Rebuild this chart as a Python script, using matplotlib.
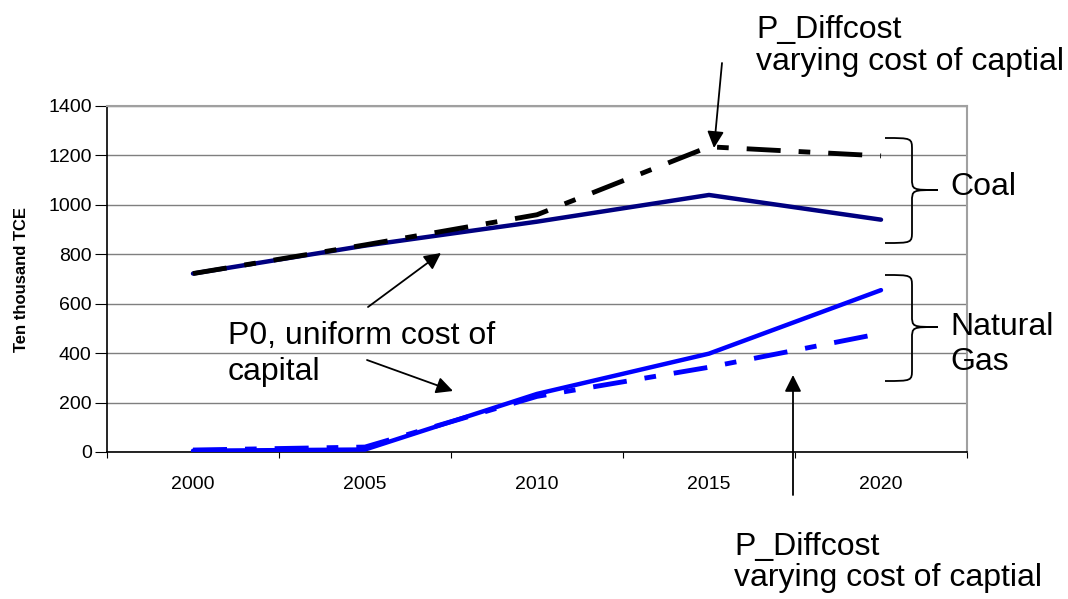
import matplotlib
matplotlib.use('Agg')
import matplotlib.pyplot as plt
from matplotlib.path import Path
from matplotlib.patches import PathPatch

plt.rcParams['font.family'] = ['Liberation Sans', 'DejaVu Sans']

years = ['2000', '2005', '2010', '2015', '2020']
coal_p0 = [722, 835, 932, 1040, 940]
coal_diff = [722, 838, 960, 1235, 1198]
gas_p0 = [5, 10, 235, 398, 655]
gas_diff = [8, 20, 225, 343, 480]
yticks = [0, 200, 400, 600, 800, 1000, 1200, 1400]

W, H = 1068, 599
fig = plt.figure(figsize=(W / 100, H / 100), dpi=100)
ax = fig.add_axes([107 / W, 1 - 452 / H, (967 - 107) / W, (452 - 106) / H])

x = list(range(len(years)))
ax.plot(x, coal_p0, color='#000080', lw=3.2, solid_capstyle='round', zorder=3)
ax.plot(x, coal_diff, color='black', lw=3.5, dashes=(7, 3.7, 2.4, 3.7), zorder=4)
ax.plot(x, gas_p0, color='#0000ff', lw=3.2, solid_capstyle='round', zorder=3)
ax.plot(x, gas_diff, color='#0000ff', lw=3.5, dashes=(7, 3.7, 2.4, 3.7), zorder=4)

ax.set_xlim(-0.5, len(years) - 0.5)
ax.set_ylim(0, 1400)
ax.set_yticks(yticks)
ax.set_yticklabels([str(v) for v in yticks], fontsize=14)
ax.set_xticks([i - 0.5 for i in range(len(years) + 1)])
ax.set_xticklabels([])
ax.set_xticks(x, minor=True)
ax.set_xticklabels(years, minor=True, fontsize=14)
ax.tick_params(axis='x', which='major', length=4.5, direction='out', color='black')
ax.tick_params(axis='x', which='minor', length=0, pad=17)
ax.tick_params(axis='y', length=9, direction='out', pad=2)
ax.yaxis.grid(True, color='#7f7f7f', lw=1)
ax.set_axisbelow(True)
for s in ['top', 'right']:
    ax.spines[s].set_color('#a0a0a0')
    ax.spines[s].set_linewidth(1.5)
for s in ['left', 'bottom']:
    ax.spines[s].set_color('black')
    ax.spines[s].set_linewidth(1.2)
ax.set_ylabel('Ten thousand TCE', fontsize=12, fontweight='bold', labelpad=14)


def fp(px, py):
    # pixel position (y down) -> figure fraction
    return (px / W, 1 - py / H)


def label(px, py, s):
    fig.text(*fp(px, py), s, fontsize=23, ha='left', va='baseline')


def arrow(x0, y0, x1, y1):
    ax.annotate('', xy=fp(x1, y1), xytext=fp(x0, y0), xycoords='figure fraction',
                textcoords='figure fraction',
                arrowprops=dict(arrowstyle='-|>', color='black', lw=1.3,
                                mutation_scale=25, shrinkA=0, shrinkB=0))


def brace(x0, x1, x2, yt, ym, yb, r=12):
    pts = [(x0, yt), (x1, yt), (x1, yt), (x1, yt + r), (x1, ym - r),
           (x1, ym), (x1, ym), (x2, ym),
           (x1, ym), (x1, ym), (x1, ym + r), (x1, yb - r),
           (x1, yb), (x1, yb), (x0, yb)]
    codes = [Path.MOVETO, Path.CURVE4, Path.CURVE4, Path.CURVE4, Path.LINETO,
             Path.CURVE4, Path.CURVE4, Path.CURVE4,
             Path.CURVE4, Path.CURVE4, Path.CURVE4, Path.LINETO,
             Path.CURVE4, Path.CURVE4, Path.CURVE4]
    p = Path([fp(a, b) for a, b in pts], codes)
    fig.add_artist(PathPatch(p, fill=False, lw=1.3, ec='black', transform=fig.transFigure))


label(756, 38, 'P_Diffcost')
label(756, 70, 'varying cost of captial')
label(734, 555, 'P_Diffcost')
label(734, 586, 'varying cost of captial')
label(228, 344, 'P0, uniform cost of')
label(228, 380, 'capital')
label(950, 195, 'Coal')
label(950, 335, 'Natural')
label(950, 370, 'Gas')

arrow(722, 63, 714, 148)
arrow(793, 495, 793, 375)
arrow(368, 307, 441, 253)
arrow(367, 360, 453, 391)

brace(885, 912, 938, 138, 190, 243)
brace(885, 912, 938, 275, 327, 381)

fig.savefig('out.png', dpi=100)
